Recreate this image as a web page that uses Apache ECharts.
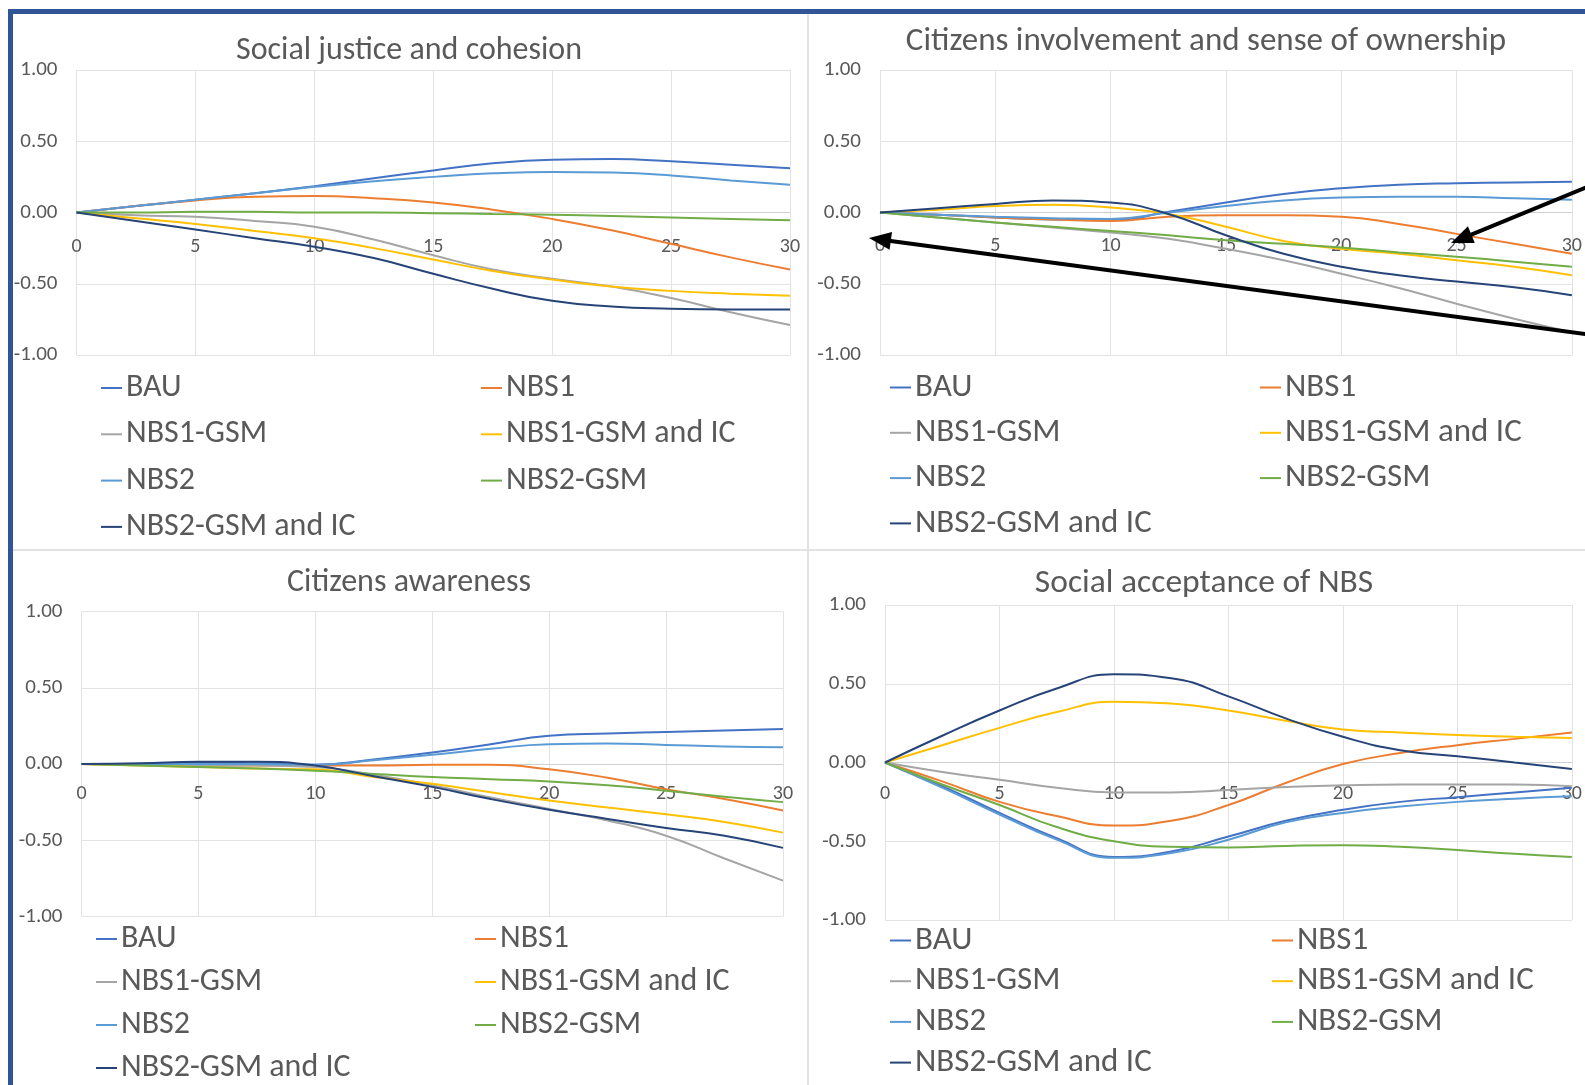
<!DOCTYPE html>
<html>
<head>
<meta charset="utf-8">
<script src="https://cdn.jsdelivr.net/npm/echarts@6/dist/echarts.min.js"></script>
<style>
  html, body { margin: 0; padding: 0; background: #ffffff; }
  #chart { width: 1585px; height: 1085px; }
</style>
</head>
<body>
<div id="chart"></div>
<script>
// Years since implementation (sampled every 2.5 years)
const years = [0, 2.5, 5, 7.5, 10, 12.5, 15, 17.5, 20, 22.5, 25, 27.5, 30];
const scenarios = ['BAU', 'NBS1', 'NBS1-GSM', 'NBS1-GSM and IC', 'NBS2', 'NBS2-GSM', 'NBS2-GSM and IC'];
const scenarioColors = ['#4472C4', '#ED7D31', '#A5A5A5', '#FFC000', '#5B9BD5', '#70AD47', '#264478'];
const xTicks = [0, 5, 10, 15, 20, 25, 30];
const yTicks = [-1, -0.5, 0, 0.5, 1];
const panelTitles = ['Social justice and cohesion', 'Citizens involvement and sense of ownership',
                     'Citizens awareness', 'Social acceptance of NBS'];

// Social justice and cohesion
const justiceBAU     = [0, 0.045, 0.09, 0.135, 0.185, 0.24, 0.295, 0.345, 0.37, 0.375, 0.36, 0.335, 0.31];
const justiceNBS1    = [0, 0.045, 0.085, 0.11, 0.115, 0.10, 0.07, 0.02, -0.045, -0.125, -0.22, -0.315, -0.40];
const justiceNBS1G   = [0, -0.02, -0.03, -0.06, -0.10, -0.19, -0.30, -0.40, -0.465, -0.52, -0.60, -0.70, -0.79];
const justiceNBS1GIC = [0, -0.04, -0.08, -0.13, -0.18, -0.25, -0.33, -0.41, -0.47, -0.52, -0.55, -0.57, -0.585];
const justiceNBS2    = [0, 0.045, 0.09, 0.135, 0.18, 0.22, 0.25, 0.275, 0.285, 0.28, 0.26, 0.225, 0.195];
const justiceNBS2G   = [0, 0, 0.005, 0.005, 0, 0, -0.005, -0.01, -0.015, -0.025, -0.035, -0.045, -0.055];
const justiceNBS2GIC = [0, -0.06, -0.12, -0.18, -0.24, -0.32, -0.43, -0.535, -0.62, -0.66, -0.675, -0.68, -0.68];

// Citizens involvement and sense of ownership
const involveBAU     = [0, -0.015, -0.035, -0.05, -0.055, 0.005, 0.07, 0.13, 0.17, 0.195, 0.205, 0.21, 0.215];
const involveNBS1    = [0, -0.015, -0.035, -0.05, -0.06, -0.03, -0.02, -0.02, -0.03, -0.08, -0.15, -0.22, -0.29];
const involveNBS1G   = [0, -0.035, -0.07, -0.105, -0.14, -0.185, -0.255, -0.335, -0.43, -0.53, -0.64, -0.745, -0.84];
const involveNBS1GIC = [0, 0.02, 0.045, 0.055, 0.035, -0.01, -0.10, -0.20, -0.255, -0.29, -0.335, -0.38, -0.44];
const involveNBS2    = [0, -0.015, -0.03, -0.04, -0.045, 0, 0.045, 0.085, 0.105, 0.11, 0.11, 0.10, 0.09];
const involveNBS2G   = [0, -0.035, -0.07, -0.10, -0.13, -0.16, -0.195, -0.22, -0.245, -0.28, -0.31, -0.345, -0.38];
const involveNBS2GIC = [0, 0.03, 0.06, 0.085, 0.07, -0.01, -0.16, -0.29, -0.38, -0.44, -0.485, -0.525, -0.58];

// Citizens awareness
const awareBAU     = [0, 0, 0.01, 0.005, -0.005, 0.03, 0.075, 0.13, 0.185, 0.20, 0.21, 0.22, 0.23];
const awareNBS1    = [0, -0.005, -0.01, -0.01, -0.01, -0.01, -0.005, -0.005, -0.035, -0.09, -0.165, -0.23, -0.305];
const awareNBS1G   = [0, -0.005, -0.01, -0.01, -0.02, -0.07, -0.14, -0.22, -0.295, -0.37, -0.47, -0.62, -0.765];
const awareNBS1GIC = [0, -0.01, -0.02, -0.03, -0.035, -0.085, -0.13, -0.185, -0.24, -0.285, -0.33, -0.38, -0.45];
const awareNBS2    = [0, 0, 0, 0, -0.005, 0.025, 0.06, 0.10, 0.13, 0.135, 0.125, 0.115, 0.11];
const awareNBS2G   = [0, -0.01, -0.02, -0.03, -0.045, -0.065, -0.085, -0.10, -0.115, -0.14, -0.175, -0.215, -0.25];
const awareNBS2GIC = [0, 0.005, 0.015, 0.015, -0.01, -0.08, -0.15, -0.23, -0.30, -0.36, -0.42, -0.47, -0.55];

// Social acceptance of NBS
const acceptBAU     = [0, -0.15, -0.32, -0.48, -0.60, -0.565, -0.47, -0.37, -0.30, -0.25, -0.22, -0.19, -0.16];
const acceptNBS1    = [0, -0.12, -0.25, -0.34, -0.40, -0.37, -0.27, -0.13, -0.01, 0.06, 0.11, 0.15, 0.19];
const acceptNBS1G   = [0, -0.06, -0.11, -0.16, -0.19, -0.19, -0.175, -0.155, -0.145, -0.14, -0.14, -0.14, -0.15];
const acceptNBS1GIC = [0, 0.11, 0.22, 0.32, 0.385, 0.375, 0.33, 0.265, 0.21, 0.19, 0.175, 0.163, 0.155];
const acceptNBS2    = [0, -0.16, -0.33, -0.49, -0.605, -0.575, -0.49, -0.38, -0.32, -0.28, -0.25, -0.23, -0.215];
const acceptNBS2G   = [0, -0.14, -0.27, -0.41, -0.50, -0.535, -0.54, -0.53, -0.525, -0.535, -0.555, -0.58, -0.60];
const acceptNBS2GIC = [0, 0.17, 0.33, 0.47, 0.56, 0.535, 0.42, 0.28, 0.163, 0.078, 0.04, 0.0, -0.042];

const panelSeries = [
  [justiceBAU, justiceNBS1, justiceNBS1G, justiceNBS1GIC, justiceNBS2, justiceNBS2G, justiceNBS2GIC],
  [involveBAU, involveNBS1, involveNBS1G, involveNBS1GIC, involveNBS2, involveNBS2G, involveNBS2GIC],
  [awareBAU, awareNBS1, awareNBS1G, awareNBS1GIC, awareNBS2, awareNBS2G, awareNBS2GIC],
  [acceptBAU, acceptNBS1, acceptNBS1G, acceptNBS1GIC, acceptNBS2, acceptNBS2G, acceptNBS2GIC]
];

// Layout of the four small charts
const FONT = 'Carlito, Calibri, Lato, sans-serif';
const TEXT = '#595959';
const LEGEND_LINE = 34;
const panels = [
  { grid: { left: 76.5, top: 70, width: 713.5, height: 285 }, labelMargin: 24,
    title: [409, 51], titleSize: 32, legendSize: 32, firstRow: 388, rowGap: 46.3, col1: 101, col2: 481 },
  { grid: { left: 880, top: 70, width: 698, height: 285 }, labelMargin: 23,
    title: [1206, 42], titleSize: 33, legendSize: 33, firstRow: 387.5, rowGap: 45.3, col1: 890, col2: 1260 },
  { grid: { left: 81.5, top: 611.5, width: 701.5, height: 305 }, labelMargin: 20,
    title: [409, 583], titleSize: 32, legendSize: 32, firstRow: 939, rowGap: 43, col1: 96, col2: 475 },
  { grid: { left: 885, top: 605, width: 702, height: 315 }, labelMargin: 21,
    title: [1204, 584], titleSize: 33.5, legendSize: 33, firstRow: 940.5, rowGap: 40.7, col1: 890, col2: 1272 }
];

const leftColumn = [scenarios[0], scenarios[2], scenarios[4], scenarios[6]];
const rightColumn = [scenarios[1], scenarios[3], scenarios[5]];

const grids = [], xAxes = [], yAxes = [], titles = [], legends = [], series = [];

panels.forEach((p, i) => {
  const yMin = yTicks[0], yMax = yTicks[yTicks.length - 1];
  // the horizontal axis crosses the vertical one at zero
  const zeroOffset = -p.grid.height * (0 - yMin) / (yMax - yMin);
  grids.push(Object.assign({ containLabel: false }, p.grid));
  xAxes.push({
    type: 'value', gridIndex: i, min: 0, max: 30, interval: 5,
    position: 'bottom', offset: zeroOffset,
    axisLine: { show: true, onZero: false, lineStyle: { color: '#d0d0d0', width: 1 } },
    axisTick: { show: false },
    axisLabel: { color: TEXT, fontFamily: FONT, fontSize: 20, margin: p.labelMargin,
                 alignMinLabel: 'center', alignMaxLabel: 'center',
                 formatter: v => xTicks.includes(v) ? String(v) : '' },
    splitLine: { show: true, lineStyle: { color: '#e3e3e3', width: 1 } }
  });
  yAxes.push({
    type: 'value', gridIndex: i, min: yMin, max: yMax, interval: 0.5,
    axisLine: { show: false, onZero: false },
    axisTick: { show: false },
    axisLabel: { color: TEXT, fontFamily: FONT, fontSize: 21, margin: 19,
                 formatter: v => v.toFixed(2) },
    splitLine: { show: true, lineStyle: { color: '#e3e3e3', width: 1 } }
  });
  titles.push({
    text: panelTitles[i], left: p.title[0], top: p.title[1],
    textAlign: 'center', textVerticalAlign: 'middle', padding: 0,
    textStyle: { color: TEXT, fontFamily: FONT, fontSize: p.titleSize, fontWeight: 'normal' }
  });
  [[leftColumn, p.col1], [rightColumn, p.col2]].forEach(([names, left]) => {
    legends.push({
      data: names, orient: 'vertical', left: left, top: p.firstRow - LEGEND_LINE / 2,
      height: 260, padding: 0, itemGap: p.rowGap - LEGEND_LINE,
      icon: 'rect', itemWidth: 21, itemHeight: 2,
      selectedMode: false,
      textStyle: { color: TEXT, fontFamily: FONT, fontSize: p.legendSize, lineHeight: LEGEND_LINE, padding: [0, 0, 0, -1] }
    });
  });
  panelSeries[i].forEach((vals, j) => {
    series.push({
      type: 'line', name: scenarios[j], xAxisIndex: i, yAxisIndex: i,
      data: years.map((x, k) => [x, vals[k]]),
      smooth: 0.5, showSymbol: false, symbol: 'none',
      lineStyle: { color: scenarioColors[j], width: 2 },
      itemStyle: { color: scenarioColors[j] },
      emphasis: { disabled: true }
    });
  });
});

// Pointer arrows drawn over the ownership chart
function arrow(tail, tip) {
  const dx = tip[0] - tail[0], dy = tip[1] - tail[1];
  const len = Math.hypot(dx, dy), ux = dx / len, uy = dy / len;
  const headLen = 22, headHalf = 9;
  const base = [tip[0] - ux * headLen, tip[1] - uy * headLen];
  const px = -uy, py = ux;
  return [
    { type: 'line', z: 100, shape: { x1: tail[0], y1: tail[1], x2: base[0] + ux * 2, y2: base[1] + uy * 2 },
      style: { stroke: '#000', lineWidth: 4 } },
    { type: 'polygon', z: 100,
      shape: { points: [tip, [base[0] + px * headHalf, base[1] + py * headHalf], [base[0] - px * headHalf, base[1] - py * headHalf]] },
      style: { fill: '#000' } }
  ];
}

const graphics = [
  // frame around the figure
  { type: 'rect', z: 50, shape: { x: 8, y: 9, width: 1577, height: 5 }, style: { fill: '#2F5597' } },
  { type: 'rect', z: 50, shape: { x: 8, y: 9, width: 5, height: 1076 }, style: { fill: '#2F5597' } },
  // separators between the four charts
  { type: 'line', z: 0, shape: { x1: 808, y1: 14, x2: 808, y2: 1085 }, style: { stroke: '#e2e2e2', lineWidth: 2 } },
  { type: 'line', z: 0, shape: { x1: 13, y1: 550, x2: 1585, y2: 550 }, style: { stroke: '#e2e2e2', lineWidth: 2 } }
].concat(arrow([1592, 185], [1451, 243]), arrow([1592, 335], [869, 238]));

const chart = echarts.init(document.getElementById('chart'), null, { renderer: 'canvas' });
chart.setOption({
  backgroundColor: '#ffffff',
  animation: false,
  title: titles,
  legend: legends,
  grid: grids,
  xAxis: xAxes,
  yAxis: yAxes,
  series: series,
  graphic: graphics
});
</script>
</body>
</html>
